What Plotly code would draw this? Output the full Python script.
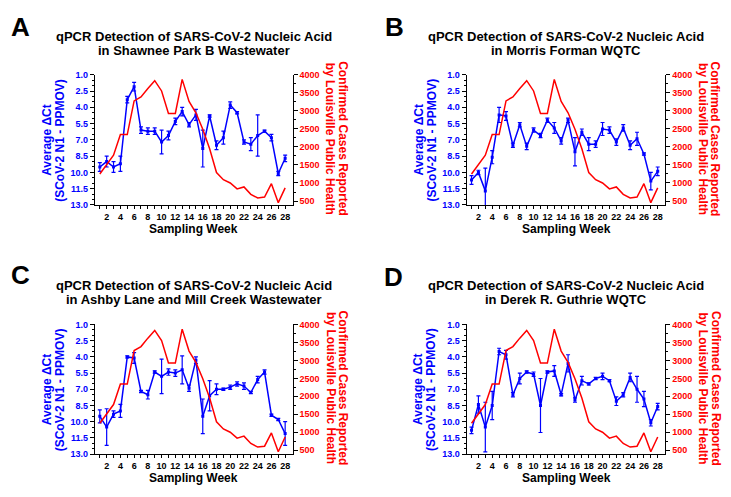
import plotly.graph_objects as go

weeks = list(range(1, 29))
week_labels = [str(w) if w % 2 == 0 else "" for w in weeks]

cases = [1250, 1495, 1770, 2340, 2340, 3275, 3385, 3620, 3835, 3550, 2925, 2925, 3870, 3260,
         2945, 2490, 1950, 1290, 1090, 1000, 835, 890, 685, 585, 610, 980, 455, 865]

ct_A = [9.5, 9.0, 9.5, 9.2, 3.3, 2.1, 6.1, 6.2, 6.2, 7.2, 6.6, 5.3, 4.4, 5.6,
        4.7, 7.8, 4.8, 7.5, 6.8, 3.8, 4.5, 7.2, 7.4, 6.6, 6.2, 6.8, 10.1, 8.7]
err_A = [0.4, 0.5, 0.5, 0.7, 0.3, 0.4, 0.3, 0.3, 0.3, 1.1, 0.4, 0.3, 0.4, 0.2,
         0.5, 1.7, 0.1, 0.4, 0.6, 0.3, 0.1, 0.2, 0.6, 1.9, 0.1, 0.3, 0.2, 0.3]

ct_B = [10.7, 10.0, 11.7, 8.6, 4.7, 4.8, 7.5, 5.6, 7.6, 6.1, 6.6, 5.2, 5.9, 7.1,
        5.2, 8.1, 6.3, 7.4, 7.4, 6.0, 6.1, 7.2, 5.9, 7.5, 6.9, 8.3, 10.8, 9.9]
err_B = [0.4, 0.2, 2.1, 0.6, 0.7, 0.4, 0.2, 0.2, 0.3, 0.2, 0.2, 0.2, 0.5, 0.3,
         0.2, 1.3, 0.3, 0.6, 0.3, 0.6, 0.3, 0.3, 0.3, 0.4, 0.6, 0.1, 0.8, 0.4]

ct_C = [9.5, 10.5, 9.3, 9.0, 4.0, 4.1, 7.2, 7.5, 5.4, 5.8, 5.4, 5.5, 5.2, 6.9,
        4.3, 9.5, 7.6, 7.0, 7.0, 6.8, 6.5, 6.7, 7.3, 6.1, 5.4, 9.4, 9.8, 11.1]
err_C = [0.6, 1.7, 0.3, 0.6, 0.1, 0.5, 0.1, 0.4, 0.1, 1.6, 0.3, 0.3, 1.3, 0.3,
         0.3, 1.6, 1.4, 0.5, 0.1, 0.2, 0.2, 0.3, 0.1, 0.3, 0.2, 0.1, 0.1, 1.1]

ct_D = [10.8, 8.4, 10.5, 8.5, 3.5, 3.8, 7.5, 6.0, 5.4, 5.6, 8.5, 5.4, 5.3, 7.5,
        4.6, 8.0, 6.2, 6.5, 6.0, 5.8, 6.2, 8.1, 7.5, 5.9, 7.0, 7.9, 10.1, 8.6]
err_D = [0.3, 0.8, 2.3, 1.3, 0.3, 0.4, 0.2, 0.5, 0.1, 0.2, 2.5, 0.1, 0.5, 0.1,
         0.8, 0.2, 0.4, 0.1, 0.1, 0.3, 0.1, 0.4, 0.2, 0.4, 1.2, 0.7, 0.3, 0.3]

panel_letters = ["A", "B", "C", "D"]
panel_sites = ["in Shawnee Park B Wastewater", "in Morris Forman WQTC",
               "in Ashby Lane and Mill Creek Wastewater", "in Derek R. Guthrie WQTC"]
title_line1 = "qPCR Detection of SARS-CoV-2 Nucleic Acid"
left_title = ["Average \u0394Ct", "(SCoV-2 N1 - PPMOV)"]
right_title = ["Confirmed Cases Reported", "by Louisville Public Health"]
x_title = "Sampling Week"
ct_ticks = [1.0, 2.5, 4.0, 5.5, 7.0, 8.5, 10.0, 11.5, 13.0]
case_ticks = [500, 1000, 1500, 2000, 2500, 3000, 3500, 4000]

series = [(ct_A, err_A), (ct_B, err_B), (ct_C, err_C), (ct_D, err_D)]

OFF = 8  # page body margin
W, H = 731 - OFF, 497 - OFF
BLUE = "#0000FF"
RED = "#FF0000"
FONT = "Liberation Sans, Arial, sans-serif"

# pixel boxes of plot areas in window coords (left, right, top, bottom)
boxes = [(95, 292.7, 71, 204), (466.7, 665.3, 71, 204),
         (95, 292.7, 326, 458.3), (466.7, 665.3, 326, 458.3)]
letter_pos = [(21, 22), (394, 22), (21, 275), (393, 278)]
title_y = [(32.3, 46.5), (32.3, 46.5), (286, 300.5), (286, 300.5)]

def px(x):
    return (x - OFF) / W

def py(y):
    return 1 - (y - OFF) / H

fig = go.Figure()
layout = dict(width=W, height=H, autosize=False, margin=dict(l=0, r=0, t=0, b=0),
              paper_bgcolor="white", plot_bgcolor="white", showlegend=False,
              font=dict(family=FONT))
annotations = []

for i, ((ct, err), (l, r, t, b)) in enumerate(zip(series, boxes)):
    xa = "x" if i == 0 else f"x{i+1}"
    ya_l = f"y{2*i+1}" if i > 0 else "y"
    ya_r = f"y{2*i+2}"
    xkey = "xaxis" if i == 0 else f"xaxis{i+1}"
    ylkey = "yaxis" if i == 0 else f"yaxis{2*i+1}"
    yrkey = f"yaxis{2*i+2}"

    fig.add_trace(go.Scatter(x=weeks, y=ct, xaxis=xa, yaxis=ya_l, mode="lines+markers",
                             line=dict(color=BLUE, width=1.5),
                             marker=dict(symbol="square", size=3, color=BLUE),
                             error_y=dict(type="data", array=err, color=BLUE,
                                          thickness=1.2, width=2)))
    fig.add_trace(go.Scatter(x=weeks, y=cases, xaxis=xa, yaxis=ya_r, mode="lines",
                             line=dict(color=RED, width=1.5)))

    tickfont = dict(family=FONT, size=9, weight="bold")
    layout[xkey] = dict(domain=[px(l), px(r)], anchor=ya_l, range=[0.3, 29.1],
                        tickvals=weeks, ticktext=week_labels, ticks="outside", ticklen=3,
                        tickwidth=1, tickcolor="black", showline=True, linecolor="black",
                        linewidth=1.2, showgrid=False, zeroline=False,
                        tickfont=dict(tickfont, color="black"))
    layout[ylkey] = dict(domain=[py(b), py(t)], anchor=xa, range=[13, 1],
                         tickvals=ct_ticks, tickformat=".1f", ticks="outside", ticklen=4,
                         tickwidth=1, tickcolor="black", showline=True, linecolor="black",
                         linewidth=1.2, showgrid=False, zeroline=False,
                         tickfont=dict(tickfont, color=BLUE),
                         minor=dict(dtick=0.5, tick0=1, ticks="outside", ticklen=2,
                                    tickcolor="black", showgrid=False))
    layout[yrkey] = dict(overlaying=ya_l, side="right", anchor=xa, range=[390, 4000],
                         tickvals=case_ticks, ticks="outside", ticklen=4, tickwidth=1,
                         tickcolor="black", showline=True, linecolor="black", linewidth=1.2,
                         showgrid=False, zeroline=False,
                         tickfont=dict(tickfont, color=RED),
                         minor=dict(dtick=250, tick0=500, ticks="outside", ticklen=2,
                                    tickcolor="black", showgrid=False))

    cx = (l + r) / 2
    cy = (t + b) / 2
    lx, ly = letter_pos[i]
    annotations.append(dict(x=px(lx), y=py(ly), xref="paper", yref="paper",
                            text=panel_letters[i], showarrow=False, xanchor="center",
                            yanchor="middle", font=dict(family=FONT, size=26,
                                                        weight="bold", color="black")))
    for txt, yy in zip([title_line1, panel_sites[i]], title_y[i]):
        annotations.append(dict(x=px(cx), y=py(yy), xref="paper", yref="paper", text=txt,
                                showarrow=False, xanchor="center", yanchor="middle",
                                font=dict(family=FONT, size=13, weight="bold",
                                          color="black")))
    for txt, off in zip(left_title, [-48, -35]):
        annotations.append(dict(x=px(l + off), y=py(cy), xref="paper", yref="paper",
                                text=txt, showarrow=False, textangle=-90,
                                xanchor="center", yanchor="middle",
                                font=dict(family=FONT, size=12, weight="bold", color=BLUE)))
    for txt, off in zip(right_title, [50, 37.5]):
        annotations.append(dict(x=px(r + off), y=py(cy - 1), xref="paper", yref="paper",
                                text=txt, showarrow=False, textangle=90,
                                xanchor="center", yanchor="middle",
                                font=dict(family=FONT, size=12, weight="bold", color=RED)))
    annotations.append(dict(x=px(cx), y=py(b + 24), xref="paper", yref="paper",
                            text=x_title, showarrow=False, xanchor="center",
                            yanchor="middle",
                            font=dict(family=FONT, size=12, weight="bold", color="black")))

layout["annotations"] = annotations
fig.update_layout(**layout)
fig.write_html("out.html")
